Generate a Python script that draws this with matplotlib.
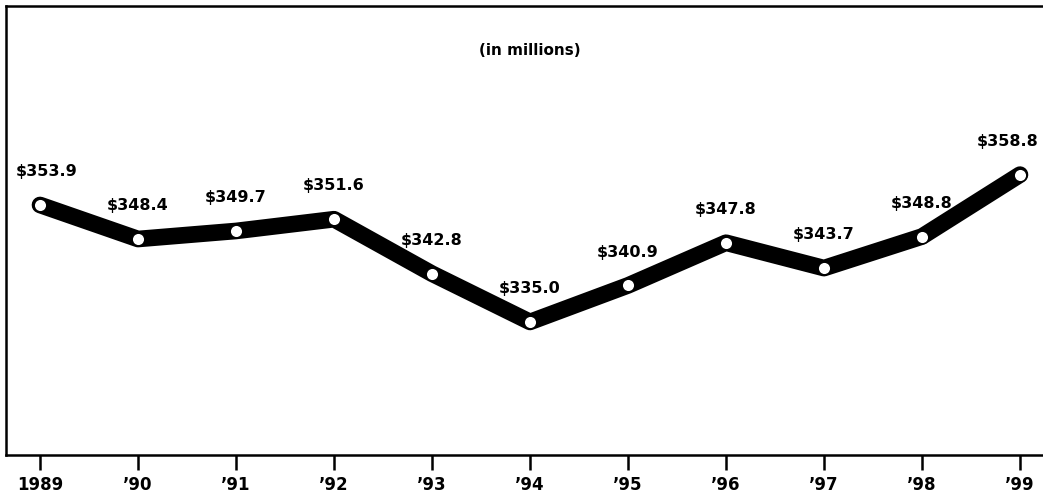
import matplotlib
matplotlib.use("Agg")
from matplotlib import pyplot as plt

years = ["1989", "’90", "’91", "’92", "’93", "’94", "’95", "’96", "’97", "’98", "’99"]
values = [353.9, 348.4, 349.7, 351.6, 342.8, 335.0, 340.9, 347.8, 343.7, 348.8, 358.8]
labels = ["$%.1f" % v for v in values]

fig = plt.figure(figsize=(10.43, 4.95), dpi=100)
ax = fig.add_axes([6 / 1043, 40 / 495, 1 - 6 / 1043, (455 - 6) / 495])

x = list(range(len(values)))
ax.plot(x, values, color="black", linewidth=12, solid_capstyle="round",
        solid_joinstyle="round", zorder=2)
ax.plot(x, values, linestyle="None", marker="o", markersize=9,
        markerfacecolor="white", markeredgecolor="black", markeredgewidth=1, zorder=3)

for i, (v, lab) in enumerate(zip(values, labels)):
    dx = 0
    if i == 0:
        dx = 5
    elif i == len(values) - 1:
        dx = -9
    ax.annotate(lab, (i, v), xytext=(dx, 24), textcoords="offset points",
                ha="center", va="center", fontsize=11.5, fontweight="bold")

ax.text(0.505, 0.9, "(in millions)", transform=ax.transAxes, ha="center",
        va="center", fontsize=11, fontweight="bold")

ax.set_xlim(-0.347, 10.235)
ax.set_ylim(313.5, 386.05)
ax.set_xticks(x)
ax.set_xticklabels(years, fontsize=12, fontweight="bold")
ax.set_yticks([])
ax.tick_params(axis="x", direction="out", length=11, width=1.8, pad=4)
ax.spines["right"].set_visible(False)
for s in ["left", "top", "bottom"]:
    ax.spines[s].set_linewidth(1.8)

fig.savefig("out.png", dpi=100)
